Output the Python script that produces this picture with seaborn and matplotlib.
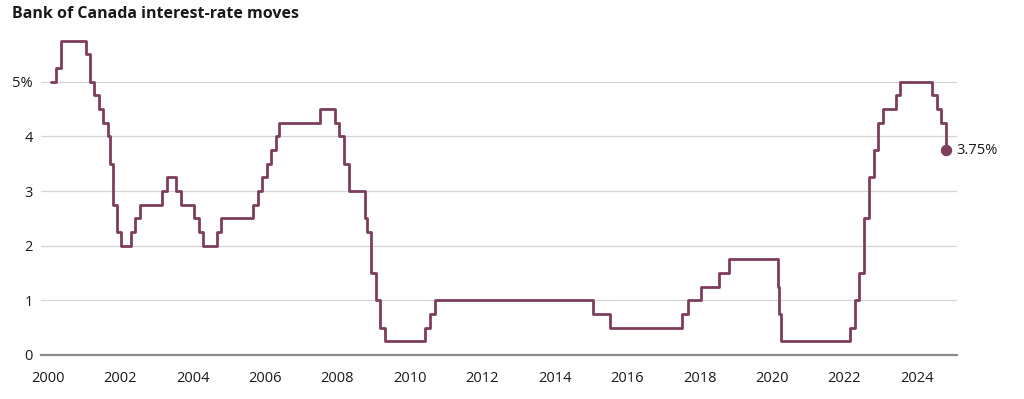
import pandas as pd
import matplotlib
matplotlib.use("Agg")
import matplotlib.pyplot as plt
import seaborn as sns

# Bank of Canada target for the overnight rate, each change date and new rate
change_dates = [
    "2000-02-03", "2000-03-22", "2000-05-17",
    "2001-01-23", "2001-03-06", "2001-04-17", "2001-05-29", "2001-07-17",
    "2001-08-28", "2001-09-17", "2001-10-23", "2001-11-27",
    "2002-01-15", "2002-04-16", "2002-06-04", "2002-07-16",
    "2003-03-04", "2003-04-15", "2003-07-15", "2003-09-03",
    "2004-01-20", "2004-03-02", "2004-04-13", "2004-09-08", "2004-10-19",
    "2005-09-07", "2005-10-18", "2005-12-06",
    "2006-01-24", "2006-03-07", "2006-04-25", "2006-05-24",
    "2007-07-10", "2007-12-04",
    "2008-01-22", "2008-03-04", "2008-04-22", "2008-10-08", "2008-10-21", "2008-12-09",
    "2009-01-20", "2009-03-03", "2009-04-21",
    "2010-06-01", "2010-07-20", "2010-09-08",
    "2015-01-21", "2015-07-15",
    "2017-07-12", "2017-09-06",
    "2018-01-17", "2018-07-11", "2018-10-24",
    "2020-03-04", "2020-03-13", "2020-03-27",
    "2022-03-02", "2022-04-13", "2022-06-01", "2022-07-13", "2022-09-07",
    "2022-10-26", "2022-12-07",
    "2023-01-25", "2023-06-07", "2023-07-12",
    "2024-06-05", "2024-07-24", "2024-09-04", "2024-10-23",
]
rates = [
    5.00, 5.25, 5.75,
    5.50, 5.00, 4.75, 4.50, 4.25,
    4.00, 3.50, 2.75, 2.25,
    2.00, 2.25, 2.50, 2.75,
    3.00, 3.25, 3.00, 2.75,
    2.50, 2.25, 2.00, 2.25, 2.50,
    2.75, 3.00, 3.25,
    3.50, 3.75, 4.00, 4.25,
    4.50, 4.25,
    4.00, 3.50, 3.00, 2.50, 2.25, 1.50,
    1.00, 0.50, 0.25,
    0.50, 0.75, 1.00,
    0.75, 0.50,
    0.75, 1.00,
    1.25, 1.50, 1.75,
    1.25, 0.75, 0.25,
    0.50, 1.00, 1.50, 2.50, 3.25,
    3.75, 4.25,
    4.50, 4.75, 5.00,
    4.75, 4.50, 4.25, 3.75,
]
year_ticks = list(range(2000, 2025, 2))
rate_ticks = [0, 1, 2, 3, 4, 5]
rate_labels = ["0", "1", "2", "3", "4", "5%"]

df = pd.DataFrame({"date": pd.to_datetime(change_dates), "rate": rates})
# decimal years so the x axis is a plain number line
df["year"] = df["date"].dt.year + (df["date"].dt.dayofyear - 1) / 365.25

LINE = "#7d3d5d"
TEXT = "#1a1a1a"

sns.set_style("white")
plt.rcParams["font.family"] = ["Open Sans", "DejaVu Sans"]

fig = plt.figure(figsize=(10.24, 3.99), dpi=100)
ax = fig.add_axes([0.04, 0.1103, 0.8943, 0.8219])

ax.set_axisbelow(True)
for r in rate_ticks[1:]:
    ax.axhline(r, color="#d4d4d4", lw=0.9, zorder=0)

sns.lineplot(data=df, x="year", y="rate", ax=ax, color=LINE, lw=2.0,
             drawstyle="steps-post", estimator=None, sort=True, zorder=3)

last = df.iloc[-1]
ax.plot([last["year"]], [last["rate"]], "o", color=LINE, ms=7.2, zorder=4,
        clip_on=False)
ax.annotate(f"{last['rate']:.2f}%", (last["year"], last["rate"]),
            xytext=(7, 0), textcoords="offset points", va="center",
            ha="left", fontsize=10.5, color=TEXT)

ax.set_xlim(1999.815, 2025.1)
ax.set_ylim(0, 6)
ax.set_xticks(year_ticks)
ax.set_xticklabels([str(y) for y in year_ticks])
ax.set_yticks(rate_ticks)
ax.set_yticklabels(rate_labels)
ax.set_xlabel("")
ax.set_ylabel("")

for side in ["top", "right", "left"]:
    ax.spines[side].set_visible(False)
ax.spines["bottom"].set_color("#8c8c8c")
ax.spines["bottom"].set_linewidth(1.6)

ax.tick_params(axis="x", length=3.5, width=0.9, color="#555555", pad=8,
               labelsize=10.5, labelcolor=TEXT, direction="out")
ax.tick_params(axis="y", length=0, pad=6, labelsize=10.5, labelcolor=TEXT)

fig.text(0.0115, 0.965, "Bank of Canada interest-rate moves", fontsize=11.5,
         fontweight="bold", color=TEXT, ha="left", va="center")

fig.savefig("out.png", dpi=100)
